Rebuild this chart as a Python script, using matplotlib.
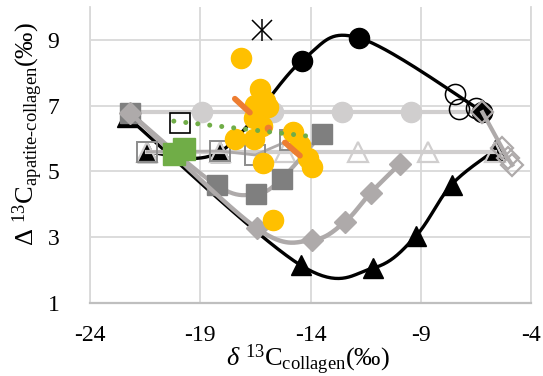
import numpy as np
import matplotlib
matplotlib.use("Agg")
import matplotlib.pyplot as plt

plt.rcParams['font.family'] = ['Liberation Serif', 'DejaVu Serif']
plt.rcParams['mathtext.fontset'] = 'custom'
plt.rcParams['mathtext.rm'] = 'Liberation Serif'
plt.rcParams['mathtext.it'] = 'Liberation Serif:italic'
plt.rcParams['mathtext.bf'] = 'Liberation Serif:bold'

# ---- data -------------------------------------------------------------
x_ticks = [-24, -19, -14, -9, -4]
y_ticks = [1, 3, 5, 7, 9]

# model curves
gcirc_x = [-22.2, -18.9, -15.7, -12.58, -9.46, -6.6]
gcirc_y = [6.8, 6.8, 6.8, 6.8, 6.8, 6.8]

gtri_x = [-21.4, -18.1, -15.16, -11.86, -8.69, -5.65]
gtri_y = [5.6, 5.6, 5.6, 5.6, 5.6, 5.6]

btri_x = [-22.3, -14.45, -11.18, -9.23, -7.6, -5.65]
btri_y = [6.65, 2.15, 2.06, 3.03, 4.6, 5.64]

bcirc_x = [-21.4, -18.1, -14.4, -11.8, -6.2]
bcirc_y = [5.6, 5.6, 8.36, 9.06, 6.82]

dsq_x = [-22.2, -18.26, -16.45, -15.31, -13.5]
dsq_y = [6.79, 4.58, 4.32, 4.78, 6.14]

diam_x = [-22.2, -16.43, -13.95, -12.45, -11.27, -9.95]
diam_y = [6.79, 3.27, 2.91, 3.46, 4.35, 5.23]

odiam_x = [-6.2, -5.3, -5.05, -4.85]
odiam_y = [6.8, 5.7, 5.4, 5.2]

ocirc_x = [-7.46, -7.28, -6.51]
ocirc_y = [7.36, 6.9, 6.94]

osq_x = [-21.4, -18.1, -16.5, -14.95]
osq_y = [5.6, 5.62, 5.5, 5.95]

# measured samples
green_x = [-20.19, -19.74]
green_y = [5.52, 5.67]
green_fit_x = [-20.2, -14.2]
green_fit_y = [6.53, 6.08]

yellow_x = [-17.13, -16.30, -16.07, -16.52, -15.93, -16.57, -16.21, -17.43,
            -16.57, -16.16, -14.80, -14.48, -14.12, -13.94, -15.71]
yellow_y = [8.46, 7.52, 7.15, 7.03, 6.97, 6.64, 6.39, 6.00,
            6.00, 5.27, 6.20, 5.79, 5.42, 5.15, 3.52]

orange_a_x = [-17.43, -16.75]
orange_a_y = [7.21, 6.79]
orange_b_x = [-15.16, -14.48]
orange_b_y = [5.88, 5.48]
orange_pt_x = [-15.93]
orange_pt_y = [6.33]

star_x = [-16.21]
star_y = [9.30]

bsq_x = [-19.92]
bsq_y = [6.48]


def smooth(xs, ys, n=40):
    """Cardinal (Catmull-Rom) smoothing through the given points."""
    p = np.column_stack([xs, ys]).astype(float)
    if len(p) < 3:
        return p[:, 0], p[:, 1]
    m = np.zeros_like(p)
    m[1:-1] = (p[2:] - p[:-2]) / 2.0
    m[0] = (p[1] - p[0]) / 2.0
    m[-1] = (p[-1] - p[-2]) / 2.0
    out = []
    t = np.linspace(0, 1, n)[:, None]
    h00 = 2 * t**3 - 3 * t**2 + 1
    h10 = t**3 - 2 * t**2 + t
    h01 = -2 * t**3 + 3 * t**2
    h11 = t**3 - t**2
    for i in range(len(p) - 1):
        seg = h00 * p[i] + h10 * m[i] + h01 * p[i + 1] + h11 * m[i + 1]
        out.append(seg if i == 0 else seg[1:])
    c = np.vstack(out)
    return c[:, 0], c[:, 1]


fig = plt.figure(figsize=(5.43, 3.76), dpi=100)
ax = fig.add_axes([90 / 543, 1 - 303 / 376, 441 / 543, 296 / 376])

ax.set_xlim(-24, -4)
ax.set_ylim(1, 10)
ax.set_xticks(x_ticks)
ax.set_yticks(y_ticks)
ax.set_xticklabels([str(v) for v in x_ticks])
ax.set_yticklabels([str(v) for v in y_ticks])
ax.grid(True, color='#d9d9d9', lw=1.3)
ax.set_axisbelow(True)
ax.spines['top'].set_visible(False)
ax.spines['left'].set_color('#d9d9d9')
ax.spines['right'].set_color('#d9d9d9')
ax.spines['left'].set_linewidth(1.3)
ax.spines['right'].set_linewidth(1.3)
ax.spines['bottom'].set_color('#bfbfbf')
ax.spines['bottom'].set_linewidth(1.6)
ax.tick_params(length=0, labelsize=17)
ax.tick_params(axis='x', pad=16)
ax.tick_params(axis='y', pad=22)

LIGHT = '#d0cece'
MID = '#aeaaaa'
DARK = '#7f7f7f'
MS = 14.5

# light grey circles
sx, sy = smooth(gcirc_x, gcirc_y)
ax.plot(sx, sy, color=LIGHT, lw=3, zorder=2)
ax.plot(gcirc_x[1:5], gcirc_y[1:5], 'o', color=LIGHT, ms=MS, zorder=2)

# black triangles (diagonal loop)
sx, sy = smooth(btri_x, btri_y)
ax.plot(sx, sy, color='black', lw=2.4, zorder=3)
ax.plot(btri_x, btri_y, '^', color='black', ms=MS, zorder=3)

# black circles
sx, sy = smooth(bcirc_x, bcirc_y)
ax.plot(sx, sy, color='black', lw=2.4, zorder=3)
ax.plot(bcirc_x[:2], bcirc_y[:2], '^', color='black', ms=MS, zorder=3)
ax.plot(bcirc_x[2:], bcirc_y[2:], 'o', color='black', ms=MS, zorder=3)

# light grey open triangles
sx, sy = smooth(gtri_x, gtri_y)
ax.plot(sx, sy, color=LIGHT, lw=3, zorder=4)
ax.plot(gtri_x, gtri_y, '^', mfc='none', mec=LIGHT, mew=1.6, ms=MS, zorder=4)

# dark grey squares
sx, sy = smooth(dsq_x, dsq_y)
ax.plot(sx, sy, color=MID, lw=3, zorder=5)
ax.plot(dsq_x, dsq_y, 's', color=DARK, ms=15, zorder=5)

# grey diamonds
sx, sy = smooth(diam_x, diam_y)
ax.plot(sx, sy, color=MID, lw=3.2, zorder=6)
ax.plot(diam_x, diam_y, 'D', color=MID, ms=11, zorder=6)

# open circles
ax.plot(ocirc_x, ocirc_y, 'o', mfc='none', mec='black', mew=1.1, ms=MS, zorder=7)

# open diamonds
sx, sy = smooth(odiam_x, odiam_y)
ax.plot(sx, sy, color=MID, lw=3, zorder=7)
ax.plot(odiam_x, odiam_y, 'D', mfc='none', mec=MID, mew=1.6, ms=11,
        zorder=7, clip_on=False)

# grey open squares
ax.plot(osq_x, osq_y, color=MID, lw=2, zorder=8)
ax.plot(osq_x, osq_y, 's', mfc='none', mec='#8c8c8c', mew=1.4, ms=14, zorder=8)

# green samples
ax.plot(green_x, green_y, 's', color='#70ad47', ms=16, zorder=9)

# yellow samples
ax.plot(yellow_x, yellow_y, 'o', color='#ffc000', ms=MS, zorder=10)

# orange samples
ax.plot(orange_a_x, orange_a_y, color='#ed7d31', lw=4.2,
        solid_capstyle='round', zorder=11)
ax.plot(orange_b_x, orange_b_y, color='#ed7d31', lw=4.2,
        solid_capstyle='round', zorder=11)
ax.plot(orange_pt_x, orange_pt_y, 'o', color='#ed7d31', ms=4.5, zorder=11)

# green fit
ax.plot(green_fit_x, green_fit_y, color='#70ad47', lw=3.6,
        linestyle=(0, (0.01, 2.4)), dash_capstyle='round', zorder=12)

# asterisk sample
ax.plot(star_x, star_y, 'x', color='black', ms=14, mew=1.1, zorder=12)
ax.plot(star_x, star_y, '|', color='black', ms=16, mew=1.1, zorder=12)

# open black square
ax.plot(bsq_x, bsq_y, 's', mfc='none', mec='black', mew=1.2, ms=15, zorder=13)

# axis titles
fig.text(308 / 543, 1 - 360 / 376,
         r'$\delta$ $^{13}$C$_{\mathrm{collagen}}$(‰)',
         ha='center', va='center', fontsize=19)
fig.text(28 / 543, 1 - 134 / 376,
         'Δ $^{13}$C$_{\\mathrm{apatite\u2010collagen}}$(‰)',
         ha='center', va='center', rotation=90, fontsize=19)

fig.savefig('out.png', dpi=100)
